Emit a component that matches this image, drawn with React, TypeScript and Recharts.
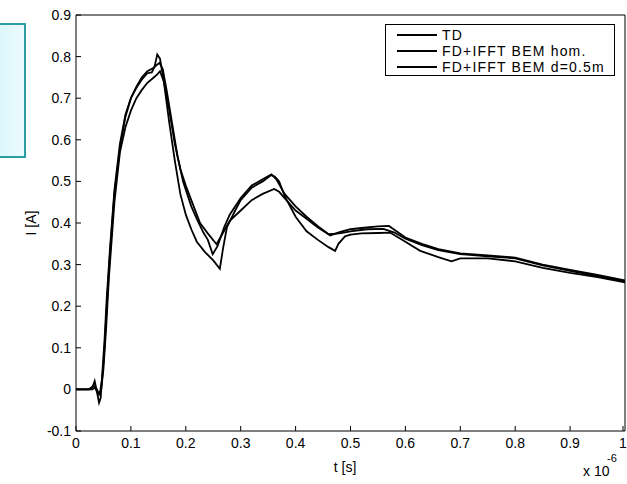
import { Legend, Line, LineChart, XAxis, YAxis } from 'recharts';

// time in microseconds, current in amperes
const TIME_TD = [
  0, 0.022, 0.03, 0.034, 0.038, 0.042, 0.045, 0.048, 0.052, 0.056, 0.062, 0.07, 0.08, 0.09, 0.1, 0.11, 0.12,
  0.13, 0.138, 0.143, 0.148, 0.153, 0.16, 0.17, 0.18, 0.19, 0.2, 0.21, 0.22, 0.235, 0.25, 0.262, 0.268, 0.275,
  0.29, 0.3, 0.32, 0.34, 0.355, 0.362, 0.37, 0.38, 0.4, 0.42, 0.44, 0.46, 0.472, 0.478, 0.49, 0.5, 0.52, 0.55,
  0.572, 0.6, 0.627, 0.66, 0.684, 0.7, 0.75, 0.8, 0.85, 0.9, 0.95, 1.0,
];
const CURRENT_TD = [
  0, 0, 0.005, 0.02, -0.005, -0.032, -0.02, 0.04, 0.12, 0.22, 0.34, 0.48, 0.59, 0.66, 0.7, 0.725, 0.745,
  0.76, 0.762, 0.775, 0.805, 0.795, 0.74, 0.64, 0.55, 0.47, 0.42, 0.385, 0.355, 0.33, 0.31, 0.29, 0.34, 0.39,
  0.43, 0.455, 0.485, 0.5, 0.515, 0.512, 0.5, 0.465, 0.415, 0.38, 0.36, 0.342, 0.333, 0.35, 0.368, 0.372, 0.375, 0.376,
  0.377, 0.355, 0.333, 0.318, 0.308, 0.315, 0.315, 0.308, 0.292, 0.28, 0.27, 0.257,
];

const TIME_HOM = [
  0, 0.025, 0.032, 0.036, 0.04, 0.044, 0.048, 0.052, 0.056, 0.062, 0.07, 0.08, 0.09, 0.1, 0.11, 0.12, 0.13,
  0.14, 0.152, 0.158, 0.165, 0.175, 0.185, 0.195, 0.21, 0.22, 0.232, 0.24, 0.249, 0.258, 0.27, 0.28, 0.3, 0.32,
  0.34, 0.356, 0.365, 0.38, 0.4, 0.42, 0.44, 0.463, 0.48, 0.5, 0.52, 0.55, 0.57, 0.6, 0.63, 0.66, 0.7, 0.75,
  0.8, 0.85, 0.9, 0.95, 1.0,
];
const CURRENT_HOM = [
  0, 0, 0.01, 0.0, -0.01, -0.005, 0.03, 0.1, 0.2, 0.33, 0.47, 0.58, 0.655, 0.7, 0.728, 0.75, 0.765,
  0.772, 0.785, 0.77, 0.72, 0.64, 0.56, 0.5, 0.44, 0.41, 0.377, 0.36, 0.325, 0.345, 0.39, 0.42, 0.46, 0.49,
  0.505, 0.517, 0.505, 0.47, 0.44, 0.415, 0.393, 0.37, 0.378, 0.385, 0.388, 0.392, 0.393, 0.365, 0.35, 0.337,
  0.327, 0.322, 0.317, 0.3, 0.287, 0.275, 0.262,
];

const TIME_D05 = [
  0, 0.03, 0.034, 0.038, 0.042, 0.046, 0.05, 0.055, 0.06, 0.07, 0.08, 0.09, 0.1, 0.11, 0.12, 0.13, 0.14,
  0.148, 0.153, 0.16, 0.17, 0.18, 0.19, 0.2, 0.21, 0.226, 0.24, 0.256, 0.265, 0.28, 0.3, 0.32, 0.34, 0.361,
  0.37, 0.38, 0.4, 0.42, 0.44, 0.46, 0.48, 0.5, 0.53, 0.56, 0.58, 0.6, 0.63, 0.66, 0.7, 0.75, 0.8, 0.85, 0.9,
  0.95, 1.0,
];
const CURRENT_D05 = [
  0, 0, 0.005, 0.0, -0.012, 0.0, 0.05, 0.15, 0.27, 0.45, 0.57, 0.63, 0.67, 0.7, 0.72, 0.737, 0.748,
  0.757, 0.765, 0.74, 0.67, 0.59, 0.53, 0.49, 0.455, 0.4, 0.375, 0.349, 0.37, 0.405, 0.43, 0.455, 0.47, 0.482,
  0.475, 0.46, 0.43, 0.41, 0.39, 0.373, 0.375, 0.38, 0.385, 0.386, 0.377, 0.362, 0.347, 0.335, 0.325, 0.32,
  0.315, 0.298, 0.285, 0.272, 0.26,
];

const SERIES_NAMES = ['TD', 'FD+IFFT BEM hom.', 'FD+IFFT BEM d=0.5m'];
const X_TICKS = [0, 0.1, 0.2, 0.3, 0.4, 0.5, 0.6, 0.7, 0.8, 0.9, 1];
const Y_TICKS = [-0.1, 0, 0.1, 0.2, 0.3, 0.4, 0.5, 0.6, 0.7, 0.8, 0.9];

const FONT = '"Liberation Sans", Arial, sans-serif';

const zip = (t: number[], i: number[]) => t.map((v, k) => ({ t: v, i: i[k] }));
const tdData = zip(TIME_TD, CURRENT_TD);
const homData = zip(TIME_HOM, CURRENT_HOM);
const d05Data = zip(TIME_D05, CURRENT_D05);

const fmt = (v: number) => String(Number(v.toFixed(1)));

const BottomTick = ({ x, y, payload }: any) => (
  <g>
    <line x1={x} y1={y} x2={x} y2={y - 5} stroke="#000" />
    <text x={x} y={y + 17} textAnchor="middle" fontSize={14} fontFamily={FONT} fill="#000">
      {fmt(payload.value)}
    </text>
  </g>
);

const TopTick = ({ x, y }: any) => <line x1={x} y1={y} x2={x} y2={y + 5} stroke="#000" />;

const LeftTick = ({ x, y, payload }: any) => (
  <g>
    <line x1={x} y1={y} x2={x + 5} y2={y} stroke="#000" />
    <text x={x - 5} y={y + 5} textAnchor="end" fontSize={14} fontFamily={FONT} fill="#000">
      {fmt(payload.value)}
    </text>
  </g>
);

const RightTick = ({ x, y }: any) => <line x1={x} y1={y} x2={x - 5} y2={y} stroke="#000" />;

const renderLegend = () => (
  <div
    style={{
      width: 230,
      height: 52,
      border: '1px solid #000',
      background: '#fff',
      fontFamily: FONT,
      fontSize: 14,
      lineHeight: '16px',
      letterSpacing: 1.2,
      color: '#000',
      boxSizing: 'border-box',
      paddingTop: 2,
    }}
  >
    {SERIES_NAMES.map((name) => (
      <div key={name} style={{ display: 'flex', alignItems: 'center', height: 16 }}>
        <span style={{ display: 'inline-block', width: 40, height: 2, background: '#000', marginLeft: 11, marginRight: 5 }} />
        <span style={{ whiteSpace: 'nowrap' }}>{name}</span>
      </div>
    ))}
  </div>
);

export default function App() {
  return (
    <div style={{ position: 'absolute', left: 0, top: 0, width: 627, height: 484, background: '#fff', overflow: 'hidden' }}>
      <div
        style={{
          position: 'absolute',
          left: -10,
          top: 23,
          width: 36,
          height: 135,
          boxSizing: 'border-box',
          border: '2px solid #2a9ea3',
          background: 'linear-gradient(90deg, #d8f6fa, #ecfbfd)',
        }}
      />
      <LineChart width={627} height={484} margin={{ top: 14, right: 1, left: 46, bottom: 0 }}>
        <XAxis
          dataKey="t"
          type="number"
          domain={[0, 1]}
          ticks={X_TICKS}
          tickSize={0}
          tickMargin={0}
          tickLine={false}
          tick={<BottomTick />}
          axisLine={{ stroke: '#000' }}
          height={53}
          allowDataOverflow
        />
        <XAxis
          xAxisId="top"
          orientation="top"
          type="number"
          domain={[0, 1]}
          ticks={X_TICKS}
          tickSize={0}
          tickMargin={0}
          tickLine={false}
          tick={<TopTick />}
          axisLine={{ stroke: '#000' }}
          height={1}
        />
        <YAxis
          type="number"
          domain={[-0.1, 0.9]}
          ticks={Y_TICKS}
          tickSize={0}
          tickMargin={0}
          tickLine={false}
          tick={<LeftTick />}
          axisLine={{ stroke: '#000' }}
          width={30}
          allowDataOverflow
        />
        <YAxis
          yAxisId="right"
          orientation="right"
          type="number"
          domain={[-0.1, 0.9]}
          ticks={Y_TICKS}
          tickSize={0}
          tickMargin={0}
          tickLine={false}
          tick={<RightTick />}
          axisLine={{ stroke: '#000' }}
          width={1}
        />
        <Legend
          layout="vertical"
          align="center"
          verticalAlign="middle"
          content={renderLegend}
          wrapperStyle={{ position: 'absolute', left: 385, top: 24, width: 230, height: 52 }}
        />
        <Line data={tdData} dataKey="i" name={SERIES_NAMES[0]} stroke="#000" strokeWidth={1.8} dot={false} isAnimationActive={false} />
        <Line data={homData} dataKey="i" name={SERIES_NAMES[1]} stroke="#000" strokeWidth={1.8} dot={false} isAnimationActive={false} />
        <Line data={d05Data} dataKey="i" name={SERIES_NAMES[2]} stroke="#000" strokeWidth={1.8} dot={false} isAnimationActive={false} />
        <text x={345} y={472} textAnchor="middle" fontSize={14} fontFamily={FONT} fill="#000">
          t [s]
        </text>
        <text x={36} y={223} textAnchor="middle" fontSize={14} fontFamily={FONT} fill="#000" transform="rotate(-90 36 223)">
          I [A]
        </text>
        <text x={583} y={476} fontSize={14} fontFamily={FONT} fill="#000">
          x 10
        </text>
        <text x={607} y={462} fontSize={11} fontFamily={FONT} fill="#000">
          -6
        </text>
      </LineChart>
    </div>
  );
}
